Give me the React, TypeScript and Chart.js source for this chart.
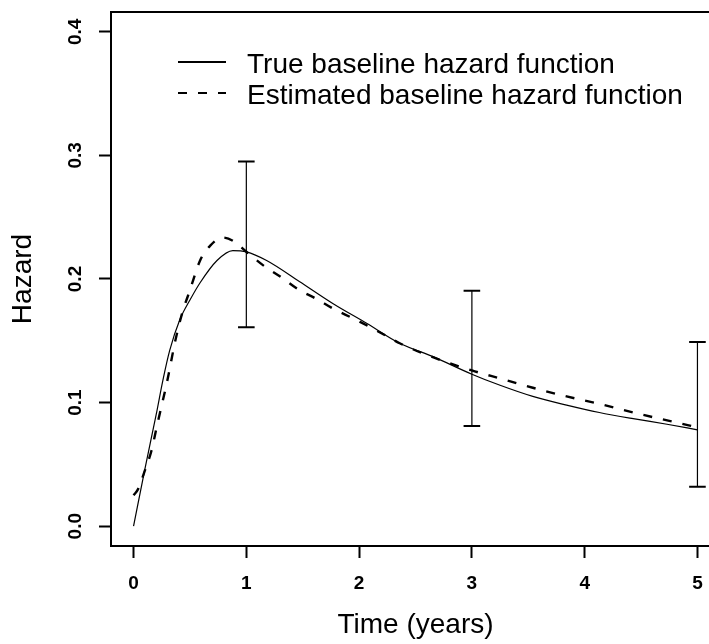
import React, { useEffect, useRef } from "react";
import { Chart, registerables } from "chart.js";

Chart.register(...registerables);

// ---- data ----
const timeTrue = [0, 0.1, 0.2, 0.26, 0.32, 0.41, 0.5, 0.59, 0.74, 0.88, 1.0, 1.18, 1.47, 1.77, 2.07, 2.36, 2.66, 3.0, 3.25, 3.54, 3.84, 4.13, 4.43, 4.73, 5.0];
const hazardTrue = [0, 0.046, 0.09, 0.118, 0.142, 0.167, 0.183, 0.197, 0.215, 0.223, 0.222, 0.215, 0.198, 0.18, 0.164, 0.148, 0.137, 0.123, 0.114, 0.105, 0.098, 0.092, 0.087, 0.0825, 0.078];

const timeEst = [0, 0.04, 0.1, 0.16, 0.2, 0.24, 0.3, 0.37, 0.43, 0.5, 0.59, 0.68, 0.79, 0.88, 1.0, 1.15, 1.3, 1.47, 1.62, 1.77, 1.95, 2.12, 2.3, 2.36, 2.66, 3.0, 3.25, 3.54, 3.84, 4.13, 4.43, 4.76, 5.0];
const hazardEst = [0.025, 0.03, 0.045, 0.0615, 0.078, 0.094, 0.118, 0.15, 0.172, 0.191, 0.215, 0.227, 0.2336, 0.231, 0.222, 0.211, 0.202, 0.191, 0.184, 0.176, 0.168, 0.16, 0.151, 0.148, 0.1365, 0.126, 0.1195, 0.112, 0.105, 0.099, 0.092, 0.085, 0.08];

const ciTime = [1, 3, 5];
const ciLower = [0.161, 0.081, 0.032];
const ciUpper = [0.295, 0.1905, 0.149];

const xTicks = [0, 1, 2, 3, 4, 5];
const yTicks = [0, 0.1, 0.2, 0.3, 0.4];

const legendLabels = ["True baseline hazard function", "Estimated baseline hazard function"];
const xTitle = "Time (years)";
const yTitle = "Hazard";

const FONT = "'Liberation Sans', Arial, Helvetica, sans-serif";
const DASH = [9, 11];

const boxPlugin = {
  id: "rBox",
  afterDatasetsDraw(chart: any) {
    const { ctx, chartArea } = chart;
    ctx.save();
    ctx.strokeStyle = "#000";
    ctx.lineWidth = 2;
    ctx.strokeRect(chartArea.left, chartArea.top, chartArea.right - chartArea.left, chartArea.bottom - chartArea.top);
    ctx.restore();
  },
};

const errorBarPlugin = {
  id: "rErrorBars",
  afterDatasetsDraw(chart: any) {
    const { ctx } = chart;
    const xs = chart.scales.x;
    const ys = chart.scales.y;
    ctx.save();
    ctx.strokeStyle = "#000";
    ctx.lineCap = "butt";
    for (let i = 0; i < ciTime.length; i++) {
      const x = xs.getPixelForValue(ciTime[i]);
      const yl = ys.getPixelForValue(ciLower[i]);
      const yu = ys.getPixelForValue(ciUpper[i]);
      ctx.lineWidth = 1.2;
      ctx.beginPath();
      ctx.moveTo(x, yl);
      ctx.lineTo(x, yu);
      ctx.stroke();
      ctx.lineWidth = 2;
      ctx.beginPath();
      ctx.moveTo(x - 8.3, yl);
      ctx.lineTo(x + 8.3, yl);
      ctx.moveTo(x - 8.3, yu);
      ctx.lineTo(x + 8.3, yu);
      ctx.stroke();
    }
    ctx.restore();
  },
};

const legendPlugin = {
  id: "rLegend",
  afterDraw(chart: any) {
    const { ctx, chartArea } = chart;
    const { left, top } = chartArea;
    const rows = [
      { line: top + 50, base: top + 61, dash: [] as number[] },
      { line: top + 81, base: top + 92, dash: DASH },
    ];
    ctx.save();
    rows.forEach((r, i) => {
      ctx.strokeStyle = "#000";
      ctx.lineWidth = 2;
      ctx.lineCap = "butt";
      ctx.setLineDash(r.dash);
      ctx.beginPath();
      ctx.moveTo(left + 67, r.line);
      ctx.lineTo(left + 115, r.line);
      ctx.stroke();
      ctx.setLineDash([]);
      ctx.fillStyle = "#000";
      ctx.font = `28px ${FONT}`;
      ctx.textAlign = "left";
      ctx.textBaseline = "alphabetic";
      ctx.fillText(legendLabels[i], left + 136, r.base);
    });
    ctx.restore();
  },
};

export default function App() {
  const ref = useRef<HTMLCanvasElement | null>(null);

  useEffect(() => {
    if (!ref.current) return;
    const chart = new Chart(ref.current, {
      type: "line",
      data: {
        datasets: [
          {
            label: legendLabels[0],
            data: timeTrue.map((t, i) => ({ x: t, y: hazardTrue[i] })),
            borderColor: "#000",
            borderWidth: 1.2,
            pointRadius: 0,
            fill: false,
            cubicInterpolationMode: "monotone",
          },
          {
            label: legendLabels[1],
            data: timeEst.map((t, i) => ({ x: t, y: hazardEst[i] })),
            borderColor: "#000",
            borderWidth: 2.4,
            borderDash: DASH,
            pointRadius: 0,
            fill: false,
            cubicInterpolationMode: "monotone",
          },
        ],
      },
      options: {
        animation: false,
        responsive: false,
        devicePixelRatio: 1,
        layout: { padding: { left: 0, top: 12, right: 2, bottom: 0 } },
        plugins: {
          legend: { display: false },
          tooltip: { enabled: false },
        },
        scales: {
          x: {
            type: "linear",
            min: -0.2,
            max: 5.2,
            afterBuildTicks: (s: any) => {
              s.ticks = xTicks.map((v) => ({ value: v }));
            },
            afterFit: (s: any) => {
              s.height = 98;
              s.paddingLeft = 0;
              s.paddingRight = 0;
            },
            grid: {
              display: true,
              drawOnChartArea: false,
              drawTicks: true,
              tickLength: 12,
              tickWidth: 2,
              tickColor: "#000",
            },
            border: { display: false },
            ticks: {
              color: "#000",
              padding: 14,
              maxRotation: 0,
              font: { family: FONT, size: 19, weight: "bold" },
              callback: (v: any) => String(v),
            },
            title: {
              display: true,
              text: xTitle,
              color: "#000",
              font: { family: FONT, size: 28 },
              padding: { top: 0, bottom: 2 },
            },
          },
          y: {
            type: "linear",
            min: -0.016,
            max: 0.416,
            afterBuildTicks: (s: any) => {
              s.ticks = yTicks.map((v) => ({ value: v }));
            },
            afterFit: (s: any) => {
              s.width = 111;
              s.paddingTop = 0;
              s.paddingBottom = 0;
            },
            grid: {
              display: true,
              drawOnChartArea: false,
              drawTicks: true,
              tickLength: 12,
              tickWidth: 2,
              tickColor: "#000",
            },
            border: { display: false },
            ticks: {
              color: "#000",
              padding: 10,
              minRotation: 90,
              maxRotation: 90,
              crossAlign: "center",
              font: { family: FONT, size: 19, weight: "bold" },
              callback: (v: any) => Number(v).toFixed(1),
            },
            title: {
              display: true,
              text: yTitle,
              color: "#000",
              font: { family: FONT, size: 28 },
              padding: { top: 6, bottom: 0 },
            },
          },
        },
      } as any,
      plugins: [boxPlugin, errorBarPlugin, legendPlugin],
    });
    return () => chart.destroy();
  }, []);

  return (
    <div
      style={{
        position: "fixed",
        left: 0,
        top: 0,
        width: 709,
        height: 644,
        overflow: "hidden",
        background: "#fff",
      }}
    >
      <canvas ref={ref} width={722} height={644} style={{ display: "block", width: 722, height: 644 }} />
    </div>
  );
}
